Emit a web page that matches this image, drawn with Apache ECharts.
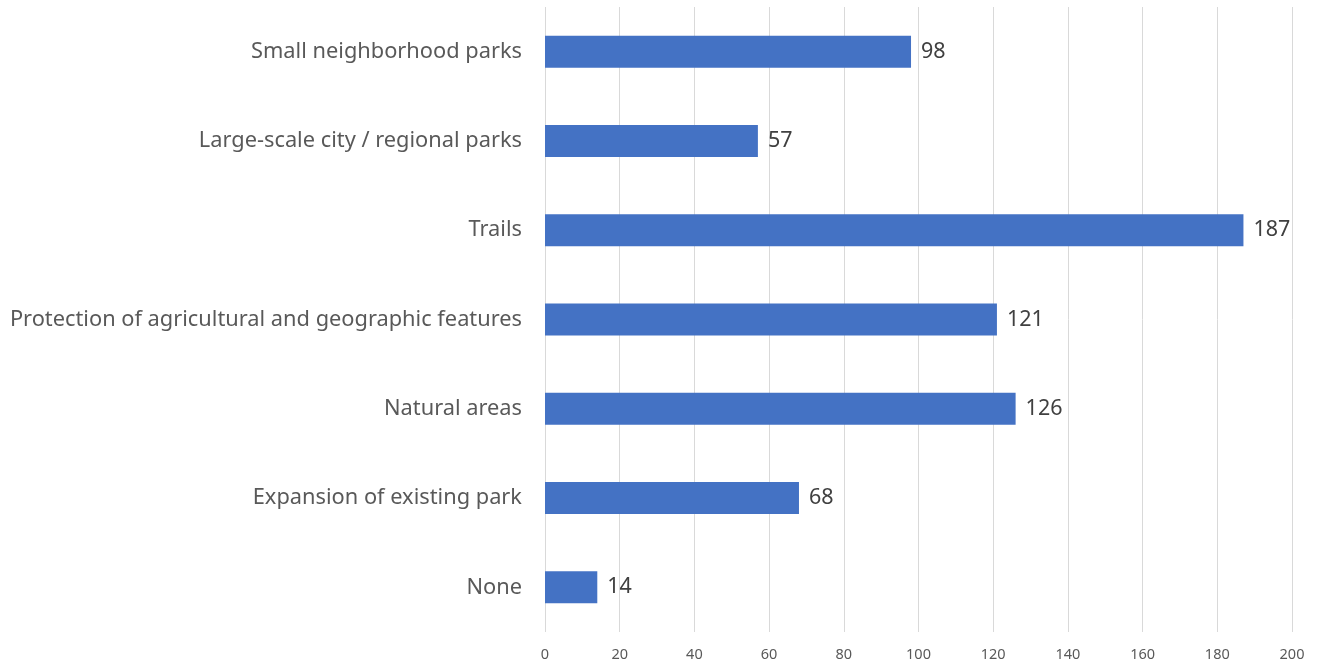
<!DOCTYPE html>
<html><head><meta charset="utf-8">
<script src="https://cdn.jsdelivr.net/npm/echarts@6/dist/echarts.min.js"></script>
<style>html,body{margin:0;padding:0;background:#fff}#c{width:1323px;height:667px}</style>
</head><body><div id="c"></div>
<script>
const categories = ["Small neighborhood parks","Large-scale city / regional parks","Trails","Protection of agricultural and geographic features","Natural areas","Expansion of existing park","None"];
const values = [98,57,187,121,126,68,14];
const xTicks = {min:0,max:200,interval:20};
const chart = echarts.init(document.getElementById('c'));
chart.setOption({
  animation:false,
  grid:{left:545,right:31,top:7,bottom:35,containLabel:false},
  xAxis:{type:'value',min:xTicks.min,max:xTicks.max,interval:xTicks.interval,
    axisLine:{show:false},axisTick:{show:false},
    axisLabel:{color:'#595959',fontSize:14.5,fontFamily:'Noto Sans',margin:15},
    splitLine:{lineStyle:{color:'#d9d9d9',width:1}}},
  yAxis:{type:'category',data:categories,inverse:true,
    axisLine:{show:false},axisTick:{show:false},
    axisLabel:{color:'#595959',fontSize:21.8,fontFamily:'Noto Sans',margin:23,padding:[2,0,0,0]}},
  series:[{type:'bar',data:values,barWidth:32,itemStyle:{color:'#4472C4'},
    label:{show:true,position:'right',distance:10,color:'#404040',fontSize:21.5,fontFamily:'Noto Sans',padding:[3,0,0,0]}}]
});
</script></body></html>
